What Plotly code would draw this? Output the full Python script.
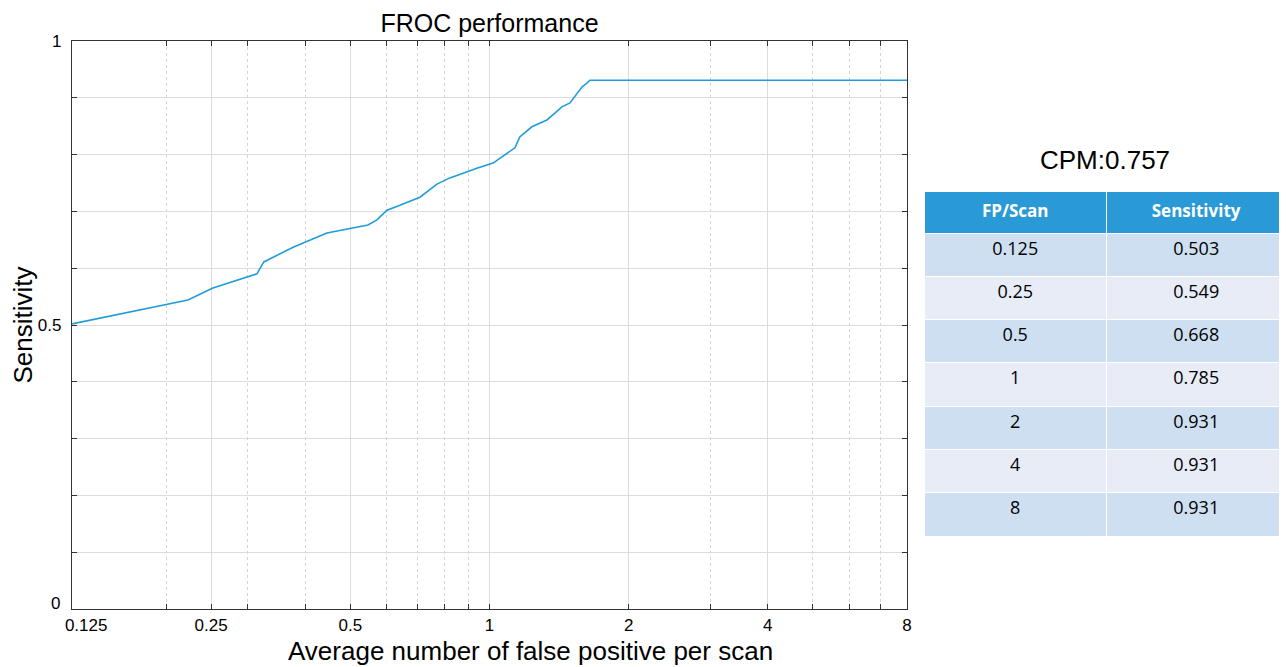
import plotly.graph_objects as go

# FROC curve
fp_per_scan = [0.125, 0.1437, 0.1843, 0.2227, 0.2522, 0.314, 0.325, 0.376, 0.445, 0.546,
               0.571, 0.600, 0.640, 0.707, 0.770, 0.821, 0.939, 1.018, 1.135, 1.163,
               1.235, 1.331, 1.385, 1.434, 1.493, 1.585, 1.624, 1.649, 8.0]
sensitivity = [0.502, 0.512, 0.530, 0.544, 0.565, 0.590, 0.611, 0.637, 0.662, 0.676,
               0.685, 0.702, 0.711, 0.725, 0.748, 0.759, 0.776, 0.785, 0.812, 0.831,
               0.849, 0.861, 0.873, 0.884, 0.891, 0.919, 0.926, 0.931, 0.931]

# Axis ticks
x_tickvals = [0.125, 0.25, 0.5, 1, 2, 4, 8]
x_ticktext = ["\u2007\u2007\u20070.125", "0.25", "0.5", "1", "2", "4", "8"]
x_minorvals = [0.2, 0.3, 0.4, 0.6, 0.7, 0.8, 0.9, 3, 5, 6, 7]
y_tickvals = [0, 0.1, 0.2, 0.3, 0.4, 0.5, 0.6, 0.7, 0.8, 0.9, 1.0]
y_ticktext = ["", "", "", "", "", "0.5", "", "", "", "", "1"]
y_zero_label = "0"  # drawn slightly raised, as in the reference

# Table
table_fp = ["0.125", "0.25", "0.5", "1", "2", "4", "8"]
table_sens = ["0.503", "0.549", "0.668", "0.785", "0.931", "0.931", "0.931"]
table_header = ["<b>FP/Scan</b>", "<b>Sensitivity</b>"]
cpm_label = "CPM:0.757"
x_title = "Average number of false positive per scan"

OFF = 8  # page body margin
W, H = 1287 - OFF, 667 - OFF
# target page coords of the plot area: x 72..907, y 41..609
L, R, T, B = 72 - OFF, 0, 41 - OFF, H - (609 - OFF)
plot_w = W - L - R
plot_h = H - T - B
x_dom_end = (907 - 72) / plot_w

fig = go.Figure()
fig.add_trace(go.Scatter(
    x=fp_per_scan, y=sensitivity, mode="lines",
    line=dict(color="#1f9dd9", width=1.6), showlegend=False,
))

row_colors = ["#cddff0" if i % 2 == 0 else "#e7ecf7" for i in range(len(table_fp))]
fig.add_trace(go.Table(
    domain=dict(x=[(924 - 72) / plot_w, 1.0], y=[0.0, (609 - 191) / plot_h]),
    columnwidth=[183, 180],
    header=dict(values=table_header, fill_color="#2a9ad6",
                font=dict(color="white", size=17, family="Open Sans"),
                line=dict(color="white", width=1), height=42, align="center"),
    cells=dict(values=[table_fp, table_sens], fill_color=[row_colors, row_colors],
               font=dict(color="black", size=18, family="Open Sans"),
               line=dict(color="white", width=1), height=43.3, align="center"),
))

axis_font = dict(family="Liberation Sans, Arial", size=17, color="black")
title_font = dict(family="Liberation Sans, Arial", size=26, color="black")
fig.update_layout(
    width=W, height=H,
    margin=dict(l=L, r=R, t=T, b=B, autoexpand=False),
    paper_bgcolor="white", plot_bgcolor="white",
    title=dict(text="FROC performance", x=((72 + 907) / 2 - OFF) / W, xanchor="center",
               y=1 - (23 - OFF) / H, yanchor="middle",
               font=dict(family="Liberation Sans, Arial", size=25, color="black")),
    xaxis=dict(
        type="log", domain=[0, x_dom_end], automargin=False,
        range=[-0.90309, 0.90309],
        tickvals=x_tickvals, ticktext=x_ticktext, tickfont=axis_font,
        ticks="inside", ticklen=5, tickcolor="#333",
        showline=True, linecolor="#333", linewidth=1.2, mirror="ticks",
        showgrid=True, gridcolor="#dcdcdc", gridwidth=1,
        zeroline=False,
        minor=dict(tickvals=x_minorvals, ticks="inside", ticklen=5, tickcolor="#333",
                   showgrid=True, gridcolor="#d4d4d4", griddash="dot", gridwidth=1),
    ),
    yaxis=dict(
        range=[0, 1], automargin=False,
        tickvals=y_tickvals, ticktext=y_ticktext, tickfont=axis_font,
        ticks="inside", ticklen=5, tickcolor="#333", ticklabelstandoff=6,
        showline=True, linecolor="#333", linewidth=1.2, mirror="ticks",
        showgrid=True, gridcolor="#dcdcdc", gridwidth=1, zeroline=False,
        title=dict(text="Sensitivity", font=title_font, standoff=8),
    ),
)
fig.add_annotation(text=y_zero_label, xref="paper", yref="paper",
                   x=(62 - 72) / plot_w, y=(609 - 603) / plot_h,
                   xanchor="right", yanchor="middle", showarrow=False,
                   font=axis_font)
fig.add_annotation(text=x_title, xref="paper", yref="paper",
                   x=(530 - 72) / plot_w, y=(609 - 651) / plot_h,
                   xanchor="center", yanchor="middle", showarrow=False,
                   font=title_font)
fig.add_annotation(text=cpm_label, xref="paper", yref="paper",
                   x=(1105 - 72) / plot_w, y=(609 - 160) / plot_h,
                   xanchor="center", yanchor="middle", showarrow=False,
                   font=dict(family="Liberation Sans, Arial", size=26, color="black"))

fig.write_html("out.html")
